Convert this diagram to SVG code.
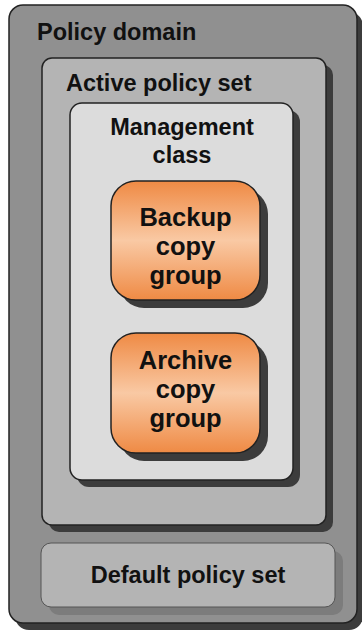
<svg xmlns="http://www.w3.org/2000/svg" width="362" height="631" viewBox="0 0 362 631">
<defs>
<linearGradient id="og" x1="0" y1="0" x2="0" y2="1">
<stop offset="0" stop-color="#ef8a44"/>
<stop offset="0.5" stop-color="#f9c9a4"/>
<stop offset="1" stop-color="#ef8a44"/>
</linearGradient>
</defs>
<style>
.t{font-family:"Liberation Sans",Arial,sans-serif;font-weight:bold;font-size:23.5px;fill:#111}
.o{font-size:25.5px}
.c{text-anchor:middle}
.b{stroke:#222;stroke-width:1.5}
</style>
<rect width="362" height="631" fill="#ffffff"/>
<g id="policy-domain">
<rect x="15" y="12" width="348" height="618" rx="14" fill="#3c3c3c"/>
<rect class="b" x="9" y="5" width="348" height="618" rx="14" fill="#909090"/>
<text class="t" x="37" y="40">Policy domain</text>
</g>
<g id="active-policy-set">
<rect x="49" y="65" width="284" height="467" rx="10" fill="#3c3c3c"/>
<rect class="b" x="42" y="58" width="284" height="467" rx="10" fill="#b4b4b4"/>
<text class="t" x="66" y="91">Active policy set</text>
</g>
<g id="management-class">
<rect x="77" y="110" width="223" height="377" rx="12" fill="#3c3c3c"/>
<rect class="b" x="70" y="103" width="223" height="377" rx="12" fill="#dcdcdc"/>
<text class="t c" x="182" y="135">Management</text>
<text class="t c" x="182" y="163">class</text>
</g>
<g id="backup-copy-group">
<rect x="119" y="189" width="149" height="119" rx="25" fill="#3c3c3c"/>
<rect class="b" x="111" y="181" width="149" height="119" rx="25" fill="url(#og)"/>
<text class="t o c" x="185.5" y="226">Backup</text>
<text class="t o c" x="185.5" y="255">copy</text>
<text class="t o c" x="185.5" y="284">group</text>
</g>
<g id="archive-copy-group">
<rect x="119" y="341" width="149" height="120" rx="25" fill="#3c3c3c"/>
<rect class="b" x="111" y="333" width="149" height="120" rx="25" fill="url(#og)"/>
<text class="t o c" x="185.5" y="369">Archive</text>
<text class="t o c" x="185.5" y="398">copy</text>
<text class="t o c" x="185.5" y="427">group</text>
</g>
<g id="default-policy-set">
<rect x="49" y="551" width="294" height="64" rx="10" fill="#7c7c7c"/>
<rect x="41" y="543" width="294" height="64" rx="10" fill="#b4b4b4" stroke="#555" stroke-width="1"/>
<text class="t c" x="188" y="583">Default policy set</text>
</g>
<g id="connectors"/>
</svg>
